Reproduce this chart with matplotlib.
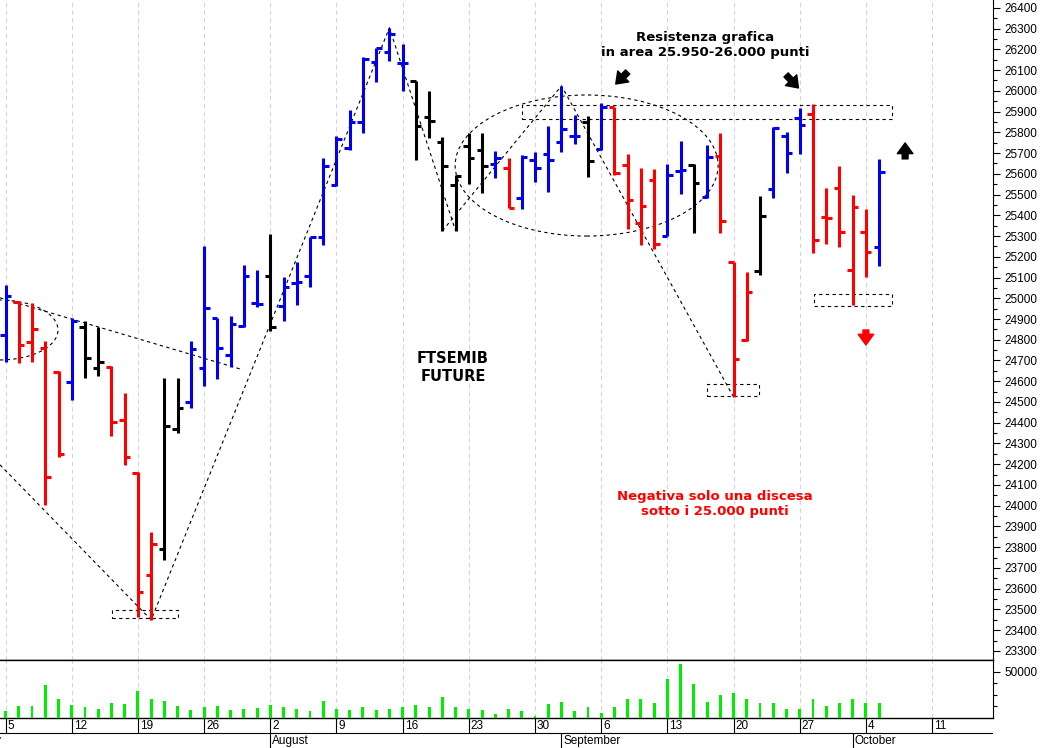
import matplotlib.pyplot as plt
from matplotlib.patches import Ellipse, Rectangle
import numpy as np

plt.rcParams['font.family'] = ['Liberation Sans', 'DejaVu Sans']

# daily bars, 5 Jul - 5 Oct (trading days only)
opens = [24823, 24982, 24790, 24761, 24645, 24597, 24862, 24664, 24669, 24414,
         24158, 23666, 23791, 24370, 24500, 24664, 24905, 24727, 24867, 24978,
         25108, 24963, 25074, 25108, 25296, 25547, 25725, 25850, 26140, 26188,
         26135, 26048, 25874, 25754, 25547, 25735, 25715, 25648, 25629, 25484,
         25667, 25696, 25754, 25783, 25850, 25720, 25923, 25643, 25363, 25571,
         25301, 25614, 25643, 25489, 25686, 25175, 24799, 25132, 25527, 25783,
         25870, 25889, 25392, 25532, 25137, 25320, 25248]
highs = [25064, 24982, 24978, 24794, 24650, 24905, 24891, 24862, 24674, 24544,
         24163, 23874, 24616, 24616, 24794, 25252, 24905, 24915, 25161, 25137,
         25310, 25103, 25175, 25296, 25677, 25783, 25908, 26164, 26207, 26304,
         26226, 26048, 26000, 25778, 25595, 25797, 25797, 25711, 25677, 25691,
         25706, 25831, 26024, 25884, 25879, 25942, 25923, 25696, 25629, 25624,
         25648, 25759, 25648, 25739, 25797, 25175, 25127, 25494, 25826, 25802,
         25918, 25937, 25532, 25638, 25498, 25431, 25672]
lows = [24693, 24688, 24693, 24004, 24235, 24510, 24616, 24626, 24336, 24197,
        23464, 23449, 23738, 24351, 24471, 24577, 24611, 24669, 24862, 24958,
        24843, 24891, 24968, 25055, 25257, 25542, 25715, 25797, 26043, 26144,
        26000, 25667, 25773, 25325, 25325, 25551, 25508, 25580, 25436, 25431,
        25561, 25513, 25706, 25744, 25585, 25715, 25595, 25334, 25257, 25238,
        25301, 25503, 25315, 25484, 25315, 24524, 24794, 25113, 25484, 25604,
        25696, 25219, 25262, 25248, 24968, 25103, 25156]
closes = [25011, 24775, 24852, 24139, 24250, 24891, 24712, 24693, 24404, 24235,
          23584, 23816, 24385, 24471, 24756, 24954, 24761, 24876, 25108, 24973,
          24862, 25055, 25079, 25296, 25638, 25768, 25850, 26154, 26207, 26275,
          26135, 25831, 25855, 25638, 25590, 25677, 25638, 25677, 25436, 25682,
          25629, 25667, 25817, 25783, 25662, 25923, 25604, 25474, 25445, 25262,
          25595, 25619, 25556, 25682, 25373, 24708, 25031, 25397, 25821, 25701,
          25836, 25281, 25387, 25320, 25440, 25224, 25609]
# b = blue, r = red, k = black
bar_col = "brrrrbkkrr" "rrkkbbbbbb" "kbbbbbbbbb" "bkkkkkkbrb" "bbbbkbrrrr" "bbkbrrrkbb" "brrrrrb"
volumes = [7100, 12500, 12500, 36000, 20800, 13600, 11900, 9700, 16200, 15400,
           29500, 20800, 18700, 12500, 8200, 11400, 12500, 7900, 9700, 10800,
           13600, 11900, 9700, 7100, 18700, 9700, 8200, 11400, 8200, 9000,
           11400, 13600, 11400, 22700, 11400, 9000, 7900, 4300, 9700, 7100,
           1700, 14400, 17300, 7100, 11400, 5400, 11400, 19800, 19800, 15800,
           42400, 58300, 37000, 17300, 25200, 27000, 20800, 15800, 15800, 9700,
           9000, 20500, 12500, 16200, 19800, 15800, 15800]

mondays = [0, 5, 10, 15, 20, 25, 30, 35, 40, 45, 50, 55, 60, 65, 70]
day_labels = ['5', '12', '19', '26', '2', '9', '16', '23', '30', '6', '13', '20', '27', '4', '11']
month_starts = [-2, 20, 42, 64]
month_names = ['July', 'August', 'September', 'October']

cmap = {'b': '#0000ee', 'r': '#ff0000', 'k': '#000000'}
cols = [cmap[c] for c in bar_col]
x = np.arange(len(closes))

fig = plt.figure(figsize=(10.4, 7.48), dpi=100)


def box(x0, y0, x1, y1):
    return [x0 / 1040, 1 - y1 / 748, (x1 - x0) / 1040, (y1 - y0) / 748]


ax = fig.add_axes(box(0, 0, 993, 660))
axv = fig.add_axes(box(0, 660, 993, 718))
axd = fig.add_axes(box(0, 718, 993, 748))
for a in (ax, axv, axd):
    a.set_xlim(-0.42, 74.6)

# price panel
ax.vlines(x, lows, highs, colors=cols, lw=2.2, capstyle='butt', zorder=3)
ax.hlines(opens, x - 0.42, x, colors=cols, lw=2.2, capstyle='butt', zorder=3)
ax.hlines(closes, x, x + 0.42, colors=cols, lw=2.2, capstyle='butt', zorder=3)
ax.set_ylim(23256, 26438)

dash = dict(color='black', lw=0.8, ls=(0, (3, 3)), zorder=2)
ax.plot([-0.42, 11, 29, 34], [24197, lows[11], highs[29], lows[34]], **dash)
ax.plot([33, 42, 55], [lows[33], highs[42], lows[55]], **dash)
ax.plot([-0.42, 17.94], [25002, 24655], **dash)
for (cx, cy, w, h) in [(-0.42, 24847, 8.76, 289), (43.9, 25640, 19.87, 680)]:
    ax.add_patch(Ellipse((cx, cy), w, h, fill=False, ec='black', lw=0.8,
                         ls=(0, (3, 3)), zorder=2))
for (x0, x1, y0, y1) in [(8.07, 13.06, 23457, 23497), (39.05, 67.0, 25865, 25932),
                         (53.0, 56.95, 24529, 24587), (61.04, 67.0, 24963, 25021)]:
    ax.add_patch(Rectangle((x0, y0), x1 - x0, y1 - y0, fill=False, ec='black',
                           lw=0.8, ls=(0, (3, 3)), zorder=2))

tfont = dict(family='DejaVu Sans', weight='bold', ha='center',
             va='center', multialignment='center', linespacing=1.25)
ax.text(52.85, 26222, 'Resistenza grafica\nin area 25.950-26.000 punti',
        color='black', fontsize=9.5, **tfont)
ax.text(33.8, 24664, 'FTSEMIB\nFUTURE', color='black', fontsize=10.5, **tfont)
ax.text(53.6, 24008, 'Negativa solo una discesa\nsotto i 25.000 punti',
        color='#ff0000', fontsize=9.5, **tfont)

arr = 'simple,head_length=0.55,head_width=0.8,tail_width=0.3'
for (xy, xyt, c) in [((46.1, 26033), (47.0, 26091), 'black'),
                     ((59.9, 26014), (58.97, 26077), 'black'),
                     ((67.96, 25749), (67.96, 25672), 'black'),
                     ((65.0, 24775), (65.0, 24847), '#ff0000')]:
    ax.annotate('', xy=xy, xytext=xyt,
                arrowprops=dict(arrowstyle=arr, color=c, mutation_scale=14,
                                shrinkA=0, shrinkB=0))

ax.yaxis.tick_right()
ax.set_yticks(np.arange(23300, 26401, 100))
ax.set_yticks(np.arange(23350, 26400, 100), minor=True)
ax.tick_params(axis='y', which='major', length=5, width=0.8, labelsize=8.5, pad=3)
ax.tick_params(axis='y', which='minor', length=3, width=0.8)

# volume panel
axv.bar(x, volumes, width=0.22, color='#00ee00', zorder=3)
axv.set_ylim(-300, 62700)
axv.yaxis.tick_right()
axv.set_yticks([50000])
axv.set_yticks([12500, 25000, 37500], minor=True)
axv.tick_params(axis='y', which='major', length=5, width=0.8, labelsize=8.5, pad=3)
axv.tick_params(axis='y', which='minor', length=3, width=0.8)

for a in (ax, axv):
    a.set_xticks(mondays)
    a.tick_params(axis='x', length=0, labelbottom=False)
    a.grid(axis='x', color='#d4d4dc', lw=0.8, ls=(0, (4, 3)), zorder=0)
    a.spines['left'].set_visible(False)
    a.spines['top'].set_visible(False)
    a.spines['right'].set_linewidth(0.8)
    a.spines['bottom'].set_linewidth(1.0)
    a.spines['bottom'].set_color('black')
axv.spines['top'].set_visible(True)
axv.spines['top'].set_linewidth(1.0)

# date rows
axd.set_ylim(0, 1)
axd.axis('off')
axd.axhline(0.5, color='black', lw=0.8)
axd.vlines(mondays, 0.5, 1, color='black', lw=0.8)
for m, lab in zip(mondays, day_labels):
    axd.text(m + 0.15, 0.74, lab, fontsize=8.5, ha='left', va='center')
axd.vlines(month_starts, 0, 0.5, color='black', lw=0.8)
for m, lab in zip(month_starts, month_names):
    axd.text(m + 0.15, 0.22, lab, fontsize=8.5, ha='left', va='center')

fig.savefig('out.png', dpi=100)
